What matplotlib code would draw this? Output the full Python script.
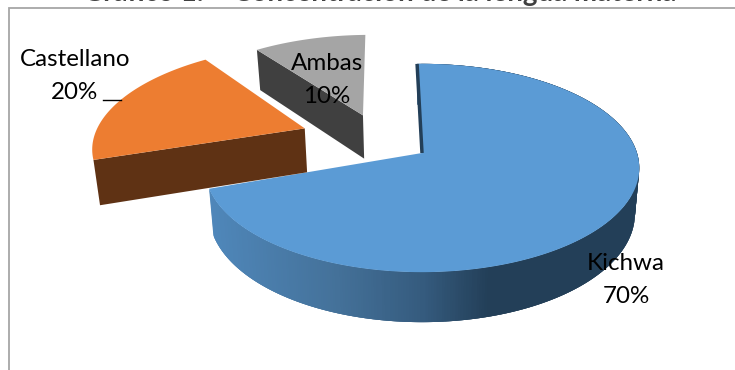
import numpy as np
import matplotlib
matplotlib.use("Agg")
import matplotlib.pyplot as plt
from matplotlib.colors import LinearSegmentedColormap
from matplotlib.patches import Polygon

categories = ["Kichwa", "Castellano", "Ambas"]
shares = [70, 20, 10]
title_text = "Gráfico 1. – Concentración de la lengua materna"

top_colors = ["#5b9bd5", "#ed7d31", "#a5a5a5"]
cut_colors = ["#233f58", "#5f3214", "#404040"]
# slice offset on the pie plane, in units of the radius
offsets = [(0.0, 0.0), (-0.565, 0.25), (-0.29, 0.39)]
# small extra rotation of each slice, degrees
turns = [-1.5, -0.5, -1.5]

cx, cy = 422, 153
radius = 215
tilt = 102
persp = 0.144
depth = 45
depth_persp = 0.1
shrink = 0.98


def project(u, v, low=False):
    s = 1 / (1 + persp * v)
    x = radius * u * s
    y = -tilt * v * s
    if low:
        return cx + x * shrink, cy + y + depth / (1 + depth_persp * v)
    return cx + x, cy + y


def rim(off, a0, a1, low=False, steps=400):
    ang = np.radians(np.linspace(a0, a1, steps))
    return np.array([project(off[0] + np.sin(a), off[1] + np.cos(a), low) for a in ang])


fig = plt.figure(figsize=(7.35, 3.7), dpi=100)
ax = fig.add_axes([0, 0, 1, 1])
ax.set_xlim(0, 735)
ax.set_ylim(370, 0)
ax.axis("off")

# chart frame runs past the right and bottom edges
ax.plot([9, 9, 740], [375, 8, 8], color="#a6a6a6", lw=1.3, solid_joinstyle="miter")

ax.text(380, 1, title_text, family="Lato", fontsize=20, fontweight="bold",
        color="#404040", ha="center", va="baseline")

side_cmap = LinearSegmentedColormap.from_list(
    "side", [(0, "#4f87ba"), (0.3, "#447199"), (0.5, "#355b7e"), (0.655, "#233f58"), (1, "#233f58")])

starts = np.cumsum([0] + shares[:-1]) * 3.6 + turns
ends = np.cumsum(shares) * 3.6 + turns

# blue slice: rounded wall in overlapping strips, then the slit at its first cut, then the top
off = offsets[0]
hi = rim(off, starts[0], ends[0])
lo = rim(off, starts[0], ends[0], low=True)
x_min, x_max = hi[:, 0].min(), hi[:, 0].max()
# strips go right to left so each one covers the seam of the one before
for i in range(len(hi) - 3):
    quad = [hi[i], hi[i + 3], lo[i + 3], lo[i]]
    color = side_cmap((hi[i, 0] - x_min) / (x_max - x_min))
    ax.add_patch(Polygon(quad, closed=True, facecolor=color, edgecolor="none"))

apex = project(*off)
ax.plot([hi[0, 0], apex[0]], [hi[0, 1], apex[1]], color=cut_colors[0], lw=2.5, solid_capstyle="butt")
ax.add_patch(Polygon(np.vstack([[apex], hi]), closed=True, facecolor=top_colors[0], edgecolor="none"))

# the two pulled-out slices show one flat cut face below the top
for idx in (1, 2):
    off = offsets[idx]
    hi = rim(off, starts[idx], ends[idx])
    lo = rim(off, starts[idx], ends[idx], low=True)
    apex = project(*off)
    apex_low = project(*off, low=True)
    ax.add_patch(Polygon([apex, hi[0], lo[0], apex_low], closed=True,
                         facecolor=cut_colors[idx], edgecolor="none"))
    ax.add_patch(Polygon(np.vstack([[apex], hi]), closed=True,
                         facecolor=top_colors[idx], edgecolor="none"))

# leader line for the Castellano label
ax.plot([103, 121], [99.5, 99.5], color="black", lw=1)

label_pos = [(626, 264), (75, 60), (327, 64)]
for name, value, (lx, ly) in zip(categories, shares, label_pos):
    ax.text(lx, ly, name, family="Lato", fontsize=17.4, color="black", ha="center", va="center")
    ax.text(lx, ly + 32.5, f"{value}%", family="Lato", fontsize=17.4, color="black", ha="center", va="center")

fig.savefig("out.png", dpi=100)
